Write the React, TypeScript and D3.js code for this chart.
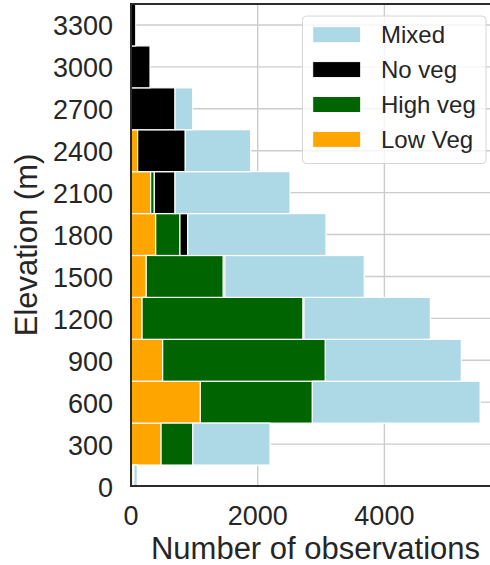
import * as d3 from "d3";

// elevation bins (m) and number of observations per land-cover class
const elevations = [0, 300, 600, 900, 1200, 1500, 1800, 2100, 2400, 2700, 3000, 3300];
const lowVeg = [30, 475, 1095, 500, 175, 240, 390, 310, 105, 0, 0, 0];
const highVeg = [15, 500, 1768, 2568, 2541, 1217, 383, 58, 0, 0, 0, 0];
const noVeg = [0, 0, 0, 0, 15, 25, 122, 327, 752, 695, 300, 75];
const mixed = [55, 1220, 2648, 2146, 1995, 2200, 2183, 1815, 1032, 279, 0, 0];

const keys = ["low", "high", "noveg", "mixed"];
const colors: Record<string, string> = {
  low: "#ffa500",
  high: "#006400",
  noveg: "#000000",
  mixed: "#add8e6",
};
const legendItems = [
  { key: "mixed", label: "Mixed" },
  { key: "noveg", label: "No veg" },
  { key: "high", label: "High veg" },
  { key: "low", label: "Low Veg" },
];
const xTicks = [0, 2000, 4000];

const W = 490;
const H = 565;
const left = 131;
const right = 500;
const top = 4;
const bottom = 486;
const font = "'Liberation Sans', Arial, sans-serif";
const textColor = "#262626";

export default function App() {
  const rows = elevations.map((e, i) => ({
    elev: e,
    low: lowVeg[i],
    high: highVeg[i],
    noveg: noVeg[i],
    mixed: mixed[i],
  }));

  const x = d3.scaleLinear().domain([0, 5825]).range([left, right]);
  const y = d3.scaleLinear().domain([0, 3450]).range([bottom, top]);
  const band = y(0) - y(300);

  const series = d3.stack<any>().keys(keys)(rows);

  return (
    <svg
      width={W}
      height={H}
      style={{ position: "absolute", left: 0, top: 0, background: "white" }}
      fontFamily={font}
    >
      <defs>
        <clipPath id="plot">
          <rect x={left} y={top} width={right - left} height={bottom - top} />
        </clipPath>
      </defs>

      {/* grid */}
      <g stroke="#cccccc" strokeWidth={1.4}>
        {xTicks.map((t) => (
          <line key={t} x1={x(t)} x2={x(t)} y1={top} y2={bottom} />
        ))}
        {elevations.map((e) => (
          <line key={e} x1={left} x2={right} y1={y(e)} y2={y(e)} />
        ))}
      </g>

      {/* stacked bars */}
      <g clipPath="url(#plot)">
        {series.map((s) => (
          <g key={s.key} fill={colors[s.key]} stroke="white" strokeWidth={1.2}>
            {s.map((d, i) =>
              d[1] - d[0] > 0 ? (
                <rect
                  key={i}
                  x={x(d[0])}
                  y={y(d.data.elev) - band / 2}
                  width={x(d[1]) - x(d[0])}
                  height={band}
                />
              ) : null
            )}
          </g>
        ))}
      </g>

      {/* spines */}
      <g stroke="#2b2b2b" strokeWidth={2}>
        <line x1={left} x2={left} y1={top - 1} y2={bottom + 1} />
        <line x1={left - 1} x2={right} y1={bottom} y2={bottom} />
        <line x1={left - 1} x2={right} y1={top} y2={top} />
      </g>

      {/* y ticks */}
      {elevations.map((e) => (
        <text
          key={e}
          x={113}
          y={y(e) + 10.5}
          textAnchor="end"
          fontSize={27}
          fill={textColor}
        >
          {e}
        </text>
      ))}

      {/* x ticks */}
      {xTicks.map((t) => (
        <text
          key={t}
          x={x(t)}
          y={525}
          textAnchor="middle"
          fontSize={27}
          fill={textColor}
        >
          {t}
        </text>
      ))}

      <text
        x={(left + right) / 2}
        y={559}
        textAnchor="middle"
        fontSize={31}
        fill={textColor}
      >
        Number of observations
      </text>
      <text
        transform={`translate(37,${(top + bottom) / 2}) rotate(-90)`}
        textAnchor="middle"
        fontSize={31}
        fill={textColor}
      >
        Elevation (m)
      </text>

      {/* legend */}
      <g>
        <rect
          x={302.5}
          y={16}
          width={183.5}
          height={147.5}
          rx={4}
          fill="white"
          fillOpacity={0.8}
          stroke="#d6d6d6"
          strokeWidth={1}
        />
        {legendItems.map((it, i) => {
          const cy = 34.7 + i * 34.9;
          return (
            <g key={it.key}>
              <rect
                x={312.7}
                y={cy - 8}
                width={48}
                height={16}
                fill={colors[it.key]}
                stroke="white"
                strokeWidth={1}
              />
              <text x={381} y={cy + 8.5} fontSize={24} fill={textColor}>
                {it.label}
              </text>
            </g>
          );
        })}
      </g>
    </svg>
  );
}
